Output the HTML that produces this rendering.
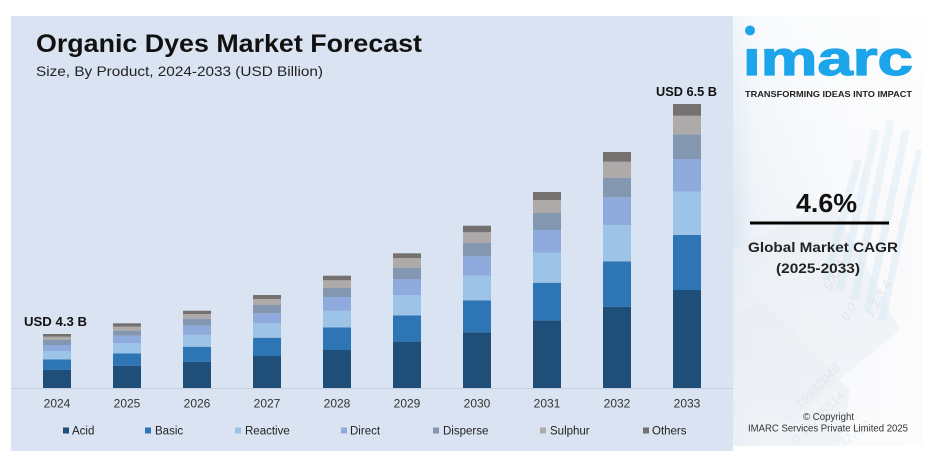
<!DOCTYPE html>
<html>
<head>
<meta charset="utf-8">
<style>
  html,body{margin:0;padding:0;background:#ffffff;}
  svg{display:block;}
  text{font-family:"Liberation Sans","DejaVu Sans",sans-serif;}
</style>
</head>
<body>
<svg width="939" height="459" viewBox="0 0 939 459" xmlns="http://www.w3.org/2000/svg">
  <defs>
    <linearGradient id="rp" x1="0" y1="0" x2="1" y2="0">
      <stop offset="0" stop-color="#dce7f2"/>
      <stop offset="0.12" stop-color="#eef3f8"/>
      <stop offset="0.5" stop-color="#f6f8fa"/>
      <stop offset="1" stop-color="#fbfbfc"/>
    </linearGradient>
    <linearGradient id="rpv" x1="0" y1="0" x2="0" y2="1">
      <stop offset="0" stop-color="#ffffff" stop-opacity="0.6"/>
      <stop offset="0.5" stop-color="#ffffff" stop-opacity="0"/>
      <stop offset="1" stop-color="#ffffff" stop-opacity="0.3"/>
    </linearGradient>
    <clipPath id="logoclip"><rect x="735" y="48" width="190" height="40"/></clipPath>
    <clipPath id="rpclip"><rect x="733" y="16" width="189" height="430"/></clipPath>
  </defs>

  <!-- chart panel -->
  <rect x="11" y="16" width="722" height="435" fill="#dae3f1"/>

  <!-- right panel -->
  <rect x="733" y="16" width="189" height="430" fill="url(#rp)"/>
  <g clip-path="url(#rpclip)">
    <path d="M733 250 L830 200 L900 330 L790 420 L733 400 Z" fill="#e9eef3" opacity="0.7"/>
    <path d="M760 300 L850 390 L840 446 L733 446 L733 320 Z" fill="#e4eaf0" opacity="0.6"/>
    <g fill="#d3e7f3" opacity="0.45">
      <polygon points="850,300 858,300 895,120 887,120"/>
      <polygon points="864,310 872,310 910,130 902,130"/>
      <polygon points="878,320 886,320 922,150 916,150"/>
      <polygon points="836,290 844,290 880,130 872,130"/>
      <polygon points="822,280 830,280 862,160 854,160"/>
    </g>
    <g fill="#d2d9df" opacity="0.6" font-size="13" font-style="italic">
      <text x="830" y="292" transform="rotate(-60 830 292)">500.0</text>
      <text x="848" y="322" transform="rotate(-60 848 322)">0.0</text>
      <text x="872" y="318" transform="rotate(-60 872 318)">1  2  3  4</text>
      <text x="800" y="410" transform="rotate(-45 800 410)">16982048</text>
      <text x="797" y="445" transform="rotate(-45 797 445)">0.15785514</text>
      <text x="842" y="448" transform="rotate(-35 842 448)">32768</text>
    </g>
    <rect x="733" y="16" width="189" height="430" fill="url(#rpv)"/>
  </g>

  <!-- title -->
  <text x="36" y="52" font-size="25" font-weight="bold" fill="#111" textLength="386" lengthAdjust="spacingAndGlyphs">Organic Dyes Market Forecast</text>
  <text x="36" y="76" font-size="14" fill="#222" textLength="287" lengthAdjust="spacingAndGlyphs">Size, By Product, 2024-2033 (USD Billion)</text>

  <!-- axis line -->
  <line x1="11" y1="388.5" x2="733" y2="388.5" stroke="#c6d0de" stroke-width="1"/>

  <!-- bars -->
  <g>
    <rect x="43" y="369.7" width="28" height="18.3" fill="#1f4e79"/>
    <rect x="43" y="359.3" width="28" height="10.4" fill="#2e75b6"/>
    <rect x="43" y="351" width="28" height="8.3" fill="#9dc3e6"/>
    <rect x="43" y="345" width="28" height="6" fill="#8faadc"/>
    <rect x="43" y="340" width="28" height="5" fill="#8497b0"/>
    <rect x="43" y="336.7" width="28" height="3.3" fill="#aeaaaa"/>
    <rect x="43" y="334" width="28" height="2.7" fill="#767171"/>

    <rect x="113" y="365.7" width="28" height="22.3" fill="#1f4e79"/>
    <rect x="113" y="353.3" width="28" height="12.4" fill="#2e75b6"/>
    <rect x="113" y="343" width="28" height="10.3" fill="#9dc3e6"/>
    <rect x="113" y="335.7" width="28" height="7.3" fill="#8faadc"/>
    <rect x="113" y="330.7" width="28" height="5" fill="#8497b0"/>
    <rect x="113" y="326.7" width="28" height="4" fill="#aeaaaa"/>
    <rect x="113" y="323.3" width="28" height="3.4" fill="#767171"/>

    <rect x="183" y="361.7" width="28" height="26.3" fill="#1f4e79"/>
    <rect x="183" y="346.7" width="28" height="15" fill="#2e75b6"/>
    <rect x="183" y="334.7" width="28" height="12" fill="#9dc3e6"/>
    <rect x="183" y="325.7" width="28" height="9" fill="#8faadc"/>
    <rect x="183" y="318.7" width="28" height="7" fill="#8497b0"/>
    <rect x="183" y="314" width="28" height="4.7" fill="#aeaaaa"/>
    <rect x="183" y="310.7" width="28" height="3.3" fill="#767171"/>

    <rect x="253" y="356" width="28" height="32" fill="#1f4e79"/>
    <rect x="253" y="337.7" width="28" height="18.3" fill="#2e75b6"/>
    <rect x="253" y="323.3" width="28" height="14.4" fill="#9dc3e6"/>
    <rect x="253" y="313.3" width="28" height="10" fill="#8faadc"/>
    <rect x="253" y="305" width="28" height="8.3" fill="#8497b0"/>
    <rect x="253" y="299" width="28" height="6" fill="#aeaaaa"/>
    <rect x="253" y="295" width="28" height="4" fill="#767171"/>

    <rect x="323" y="350" width="28" height="38" fill="#1f4e79"/>
    <rect x="323" y="327.3" width="28" height="22.7" fill="#2e75b6"/>
    <rect x="323" y="310.7" width="28" height="16.6" fill="#9dc3e6"/>
    <rect x="323" y="297" width="28" height="13.7" fill="#8faadc"/>
    <rect x="323" y="288" width="28" height="9" fill="#8497b0"/>
    <rect x="323" y="280.3" width="28" height="7.7" fill="#aeaaaa"/>
    <rect x="323" y="275.7" width="28" height="4.6" fill="#767171"/>

    <rect x="393" y="342" width="28" height="46" fill="#1f4e79"/>
    <rect x="393" y="315.3" width="28" height="26.7" fill="#2e75b6"/>
    <rect x="393" y="295" width="28" height="20.3" fill="#9dc3e6"/>
    <rect x="393" y="279" width="28" height="16" fill="#8faadc"/>
    <rect x="393" y="267.7" width="28" height="11.3" fill="#8497b0"/>
    <rect x="393" y="258" width="28" height="9.7" fill="#aeaaaa"/>
    <rect x="393" y="253.3" width="28" height="4.7" fill="#767171"/>

    <rect x="463" y="332.3" width="28" height="55.7" fill="#1f4e79"/>
    <rect x="463" y="300.3" width="28" height="32" fill="#2e75b6"/>
    <rect x="463" y="275.7" width="28" height="24.6" fill="#9dc3e6"/>
    <rect x="463" y="256.3" width="28" height="19.4" fill="#8faadc"/>
    <rect x="463" y="243" width="28" height="13.3" fill="#8497b0"/>
    <rect x="463" y="232.3" width="28" height="10.7" fill="#aeaaaa"/>
    <rect x="463" y="225.7" width="28" height="6.6" fill="#767171"/>

    <rect x="533" y="320.3" width="28" height="67.7" fill="#1f4e79"/>
    <rect x="533" y="282.7" width="28" height="37.6" fill="#2e75b6"/>
    <rect x="533" y="252.7" width="28" height="30" fill="#9dc3e6"/>
    <rect x="533" y="230" width="28" height="22.7" fill="#8faadc"/>
    <rect x="533" y="213" width="28" height="17" fill="#8497b0"/>
    <rect x="533" y="200" width="28" height="13" fill="#aeaaaa"/>
    <rect x="533" y="192" width="28" height="8" fill="#767171"/>

    <rect x="603" y="306.7" width="28" height="81.3" fill="#1f4e79"/>
    <rect x="603" y="261.3" width="28" height="45.4" fill="#2e75b6"/>
    <rect x="603" y="225" width="28" height="36.3" fill="#9dc3e6"/>
    <rect x="603" y="197.3" width="28" height="27.7" fill="#8faadc"/>
    <rect x="603" y="177.7" width="28" height="19.6" fill="#8497b0"/>
    <rect x="603" y="161.7" width="28" height="16" fill="#aeaaaa"/>
    <rect x="603" y="152" width="28" height="9.7" fill="#767171"/>

    <rect x="673" y="290" width="28" height="98" fill="#1f4e79"/>
    <rect x="673" y="235" width="28" height="55" fill="#2e75b6"/>
    <rect x="673" y="191.7" width="28" height="43.3" fill="#9dc3e6"/>
    <rect x="673" y="159" width="28" height="32.7" fill="#8faadc"/>
    <rect x="673" y="134.3" width="28" height="24.7" fill="#8497b0"/>
    <rect x="673" y="115.7" width="28" height="18.6" fill="#aeaaaa"/>
    <rect x="673" y="104" width="28" height="11.7" fill="#767171"/>
  </g>

  <!-- value labels -->
  <text x="24" y="326" font-size="13" font-weight="bold" fill="#111" textLength="63" lengthAdjust="spacingAndGlyphs">USD 4.3 B</text>
  <text x="656" y="96" font-size="13" font-weight="bold" fill="#111" textLength="61" lengthAdjust="spacingAndGlyphs">USD 6.5 B</text>

  <!-- year labels -->
  <g font-size="12" fill="#333" text-anchor="middle">
    <text x="57" y="407.5">2024</text>
    <text x="127" y="407.5">2025</text>
    <text x="197" y="407.5">2026</text>
    <text x="267" y="407.5">2027</text>
    <text x="337" y="407.5">2028</text>
    <text x="407" y="407.5">2029</text>
    <text x="477" y="407.5">2030</text>
    <text x="547" y="407.5">2031</text>
    <text x="617" y="407.5">2032</text>
    <text x="687" y="407.5">2033</text>
  </g>

  <!-- legend -->
  <g font-size="11.5" fill="#222">
    <rect x="63" y="427.5" width="6" height="6" fill="#1f4e79"/><text x="72" y="434.5">Acid</text>
    <rect x="145" y="427.5" width="6" height="6" fill="#2e75b6"/><text x="155" y="434.5">Basic</text>
    <rect x="235" y="427.5" width="6" height="6" fill="#9dc3e6"/><text x="245" y="434.5">Reactive</text>
    <rect x="341" y="427.5" width="6" height="6" fill="#8faadc"/><text x="350" y="434.5">Direct</text>
    <rect x="433" y="427.5" width="6" height="6" fill="#8497b0"/><text x="443" y="434.5">Disperse</text>
    <rect x="540" y="427.5" width="6" height="6" fill="#aeaaaa"/><text x="550" y="434.5">Sulphur</text>
    <rect x="643" y="427.5" width="6" height="6" fill="#767171"/><text x="652" y="434.5">Others</text>
  </g>

  <!-- logo -->
  <circle cx="750" cy="30.5" r="5" fill="#1ca5ea"/>
  <text x="743" y="75" font-size="48" font-weight="bold" fill="#1ca5ea" stroke="#1ca5ea" stroke-width="1.2" textLength="170" lengthAdjust="spacingAndGlyphs" clip-path="url(#logoclip)">imarc</text>
  <text x="745" y="97" font-size="8.5" font-weight="bold" fill="#222" textLength="167" lengthAdjust="spacingAndGlyphs">TRANSFORMING IDEAS INTO IMPACT</text>

  <!-- CAGR -->
  <text x="796" y="212" font-size="26" font-weight="bold" fill="#111" textLength="61" lengthAdjust="spacingAndGlyphs">4.6%</text>
  <rect x="750" y="221.5" width="139" height="3" fill="#000"/>
  <text x="748" y="252" font-size="14" font-weight="bold" fill="#222" textLength="150" lengthAdjust="spacingAndGlyphs">Global Market CAGR</text>
  <text x="776" y="273" font-size="14" font-weight="bold" fill="#222" textLength="84" lengthAdjust="spacingAndGlyphs">(2025-2033)</text>

  <!-- copyright -->
  <text x="803" y="420" font-size="10" fill="#333" textLength="51" lengthAdjust="spacingAndGlyphs">© Copyright</text>
  <text x="748" y="431.5" font-size="10" fill="#333" textLength="160" lengthAdjust="spacingAndGlyphs">IMARC Services Private Limited 2025</text>
</svg>
</body>
</html>
